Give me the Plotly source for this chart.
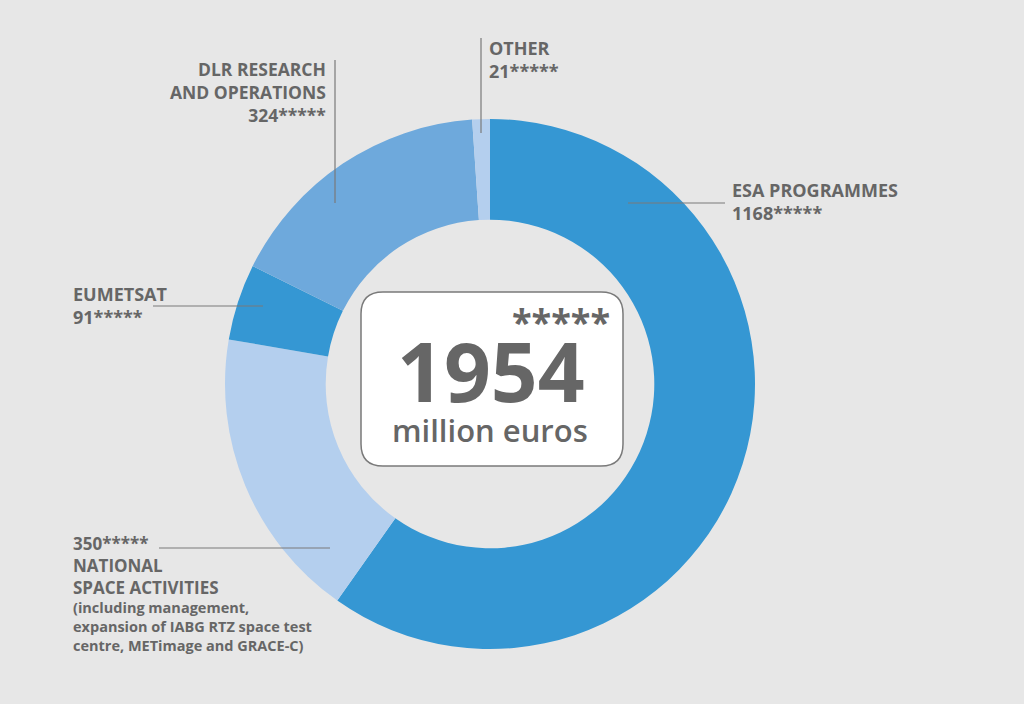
import plotly.graph_objects as go

# budget shares, clockwise from 12 o'clock
labels = ["ESA PROGRAMMES", "NATIONAL SPACE ACTIVITIES", "EUMETSAT", "DLR RESEARCH AND OPERATIONS", "OTHER"]
values = [1168, 350, 91, 324, 21]
colors = ["#3597d3", "#b4cfee", "#3597d3", "#6ea9dc", "#b4cfee"]
total = sum(values)

W, H = 1024, 704
cx, cy, r = 490, 384, 265
grey = "#666666"
line_col = "#7a7a7a"
font = "Open Sans"

fig = go.Figure()
fig.add_trace(go.Pie(
    labels=labels, values=values, sort=False, direction="clockwise", rotation=0,
    hole=0.62, marker=dict(colors=colors, line=dict(width=0)),
    textinfo="none", hoverinfo="label+value", showlegend=False,
    domain=dict(x=[(cx - r) / W, (cx + r) / W], y=[(H - cy - r) / H, (H - cy + r) / H]),
))
# empty trace so the pixel-sized axes exist for shapes / annotations
fig.add_trace(go.Scatter(x=[], y=[], showlegend=False, hoverinfo="skip"))

# rounded box in the middle
x0, y0, x1, y1, rr = 361, 292, 623, 466, 22
box = (f"M {x0+rr},{y0} L {x1-rr},{y0} Q {x1},{y0} {x1},{y0+rr} L {x1},{y1-rr} Q {x1},{y1} {x1-rr},{y1} "
       f"L {x0+rr},{y1} Q {x0},{y1} {x0},{y1-rr} L {x0},{y0+rr} Q {x0},{y0} {x0+rr},{y0} Z")
shapes = [dict(type="path", path=box, xref="x", yref="y", fillcolor="white",
               line=dict(color=line_col, width=1.5), layer="above")]

# leader lines
for (a, b, c, d) in [(628, 203, 725, 203), (335, 60, 335, 203), (481, 38, 481, 133),
                     (153, 306, 263, 306), (159, 548, 330, 548)]:
    shapes.append(dict(type="line", x0=a, y0=b, x1=c, y1=d, xref="x", yref="y",
                       line=dict(color=line_col, width=1.2), layer="above"))

ann = []
def txt(s, x, y, size=18, anchor="left", valign="top", weight="bold"):
    ann.append(dict(text=s, x=x, y=y, xref="x", yref="y", xanchor=anchor, yanchor=valign,
                    align=anchor if anchor != "center" else "center",
                    showarrow=False, font=dict(family=font, size=size, color=grey, weight=weight)))

star = "*****"
txt(f"ESA PROGRAMMES<br>{values[0]}{star}", 730, 176)
txt(f"DLR RESEARCH<br>AND OPERATIONS<br>{values[3]}{star}", 328, 55, size=17.5, anchor="right")
txt(f"OTHER<br>{values[4]}{star}", 487, 34)
txt(f"EUMETSAT<br>{values[2]}{star}", 71, 280)
txt(f"{values[1]}{star}<br>NATIONAL<br>SPACE ACTIVITIES", 71, 530, size=17)
txt("(including management,<br>expansion of IABG RTZ space test<br>centre, METimage and GRACE-C)",
    71, 596, size=14.5)

txt(star, 561, 321, size=36, anchor="center", valign="middle")
txt(str(total), 491, 370, size=82, anchor="center", valign="middle")
txt("million euros", 490, 430, size=31, anchor="center", valign="middle", weight=600)

fig.update_layout(
    width=W, height=H, margin=dict(l=0, r=0, t=0, b=0),
    paper_bgcolor="#e7e7e7", plot_bgcolor="rgba(0,0,0,0)",
    xaxis=dict(range=[0, W], domain=[0, 1], visible=False, fixedrange=True),
    yaxis=dict(range=[H, 0], domain=[0, 1], visible=False, fixedrange=True),
    shapes=shapes, annotations=ann,
)
fig.write_html("out.html", config={"displayModeBar": False},
               post_script="document.body.style.margin='0px';")
